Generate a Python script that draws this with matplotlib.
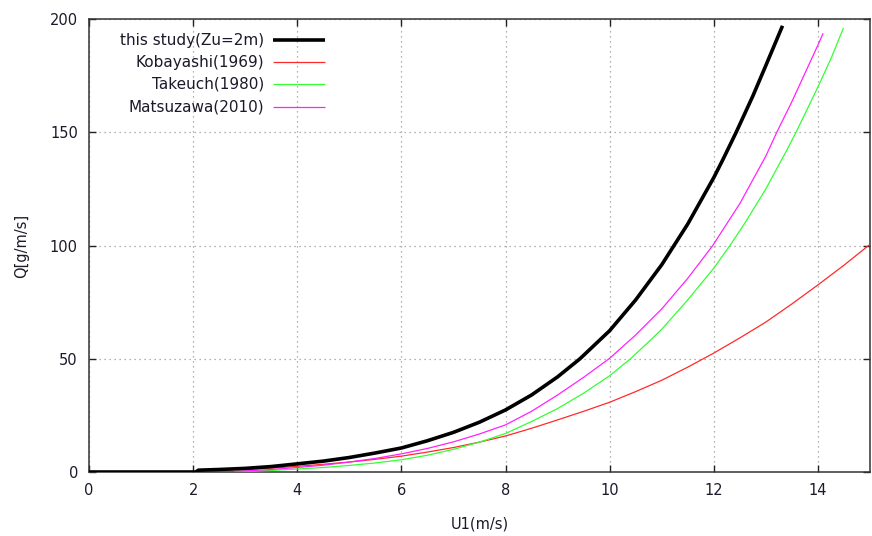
import matplotlib
matplotlib.use("Agg")
import matplotlib.pyplot as plt
from matplotlib.lines import Line2D

# ---- data ----
study_x = [0, 2.05, 2.1, 2.5, 3, 3.5, 4, 4.5, 5, 5.5, 6, 6.5, 7, 7.5, 8, 8.5, 9, 9.43, 10,
           10.5, 11, 11.5, 12, 12.17, 12.43, 12.75, 13, 13.32]
study_y = [0, 0, 0.8, 1.1, 1.6, 2.4, 3.6, 4.8, 6.4, 8.4, 10.6, 13.8, 17.5, 22.0, 27.4, 34.0, 42.0,
           50, 62.4, 76, 91.5, 109.5, 130, 137.7, 150, 166, 179.5, 197]

koba_x = [2.2, 2.5, 3, 3.5, 4, 4.5, 5, 5.5, 6, 6.5, 7, 7.5, 8, 8.5, 9, 9.5, 10, 10.5, 11,
          11.5, 12, 12.5, 13, 13.5, 14, 14.5, 15]
koba_y = [0.5, 0.8, 1.1, 1.7, 2.5, 3.4, 4.4, 5.6, 7.0, 8.8, 10.8, 13.2, 15.9, 19.3, 23.0, 26.8,
          30.8, 35.5, 40.5, 46.3, 52.5, 59.2, 66.2, 74.2, 82.6, 91.3, 100.5]

take_x = [2.8, 3, 3.5, 4, 4.5, 5, 5.5, 6, 6.5, 7, 7.5, 8, 8.5, 9, 9.5, 10, 10.4, 10.75, 11,
          11.5, 12, 12.31, 12.6, 13, 13.4, 13.58, 14, 14.25, 14.49]
take_y = [0.2, 0.3, 0.7, 1.3, 2.0, 2.9, 4.0, 5.4, 7.4, 10.0, 13.2, 17.0, 22.3, 28.0, 34.8, 42.5,
          50, 57.5, 63, 76, 90, 100, 110, 125, 142, 150, 170, 182.5, 196]

matsu_x = [2.8, 3, 3.5, 4, 4.5, 5, 5.5, 6, 6.5, 7, 7.5, 8, 8.5, 9, 9.5, 10, 10.5, 11, 11.5,
           11.98, 12.5, 13, 13.21, 13.5, 14, 14.1]
matsu_y = [0.3, 0.5, 1.1, 2.0, 3.0, 4.4, 6.0, 8.0, 10.4, 13.3, 16.8, 20.8, 26.8, 34.0, 41.8, 50.2,
           60.5, 72, 85.5, 100, 118.5, 139.5, 150, 163.5, 188.5, 193.7]

labels = ["this study(Zu=2m)", "Kobayashi(1969)", "Takeuch(1980)", "Matsuzawa(2010)"]
colors = ["#000000", "#ff2a2a", "#33ff33", "#ff22ff"]
widths = [2.6, 0.9, 0.9, 0.9]

xticks = [0, 2, 4, 6, 8, 10, 12, 14]
yticks = [0, 50, 100, 150, 200]

txt = "#1a1a2a"
plt.rcParams['font.family'] = ['DejaVu Sans']

fig = plt.figure(figsize=(8.72, 5.36), dpi=100)
ax = fig.add_axes([89/872, 1-472/536, (870-89)/872, (472-19)/536])

series = [(study_x, study_y), (koba_x, koba_y), (take_x, take_y), (matsu_x, matsu_y)]
for i in [1, 2, 3, 0]:
    xs, ys = series[i]
    ax.plot(xs, ys, color=colors[i], lw=widths[i], solid_capstyle='butt',
            solid_joinstyle='round', zorder=3 + (i == 0))

ax.set_xlim(0, 15)
ax.set_ylim(0, 200)
ax.set_xticks(xticks)
ax.set_yticks(yticks)
ax.tick_params(direction='in', length=5, width=1, top=True, right=True,
               labelsize=10.5, labelcolor=txt, color='#222222', pad=8)
ax.grid(True, color='#999999', linestyle=(0, (1, 3)), linewidth=0.9)
for s in ax.spines.values():
    s.set_color('#333333')
    s.set_linewidth(1.1)

ax.set_xlabel("U1(m/s)", fontsize=10.5, color=txt, labelpad=13)
ax.set_ylabel("Q[g/m/s]", fontsize=10.5, color=txt, labelpad=15)

# legend drawn gnuplot-style: text right-aligned, sample to the right
tr = fig.transFigure
rows = [40, 62, 84, 107]
for lab, c, w, yy in zip(labels, colors, widths, rows):
    fy = 1 - yy/536
    fig.text(264/872, fy, lab, ha='right', va='center', fontsize=11, color=txt)
    fig.add_artist(Line2D([273/872, 325/872], [fy, fy], color=c, lw=w, transform=tr,
                          solid_capstyle='butt'))

fig.savefig("out.png", dpi=100, facecolor='white')
